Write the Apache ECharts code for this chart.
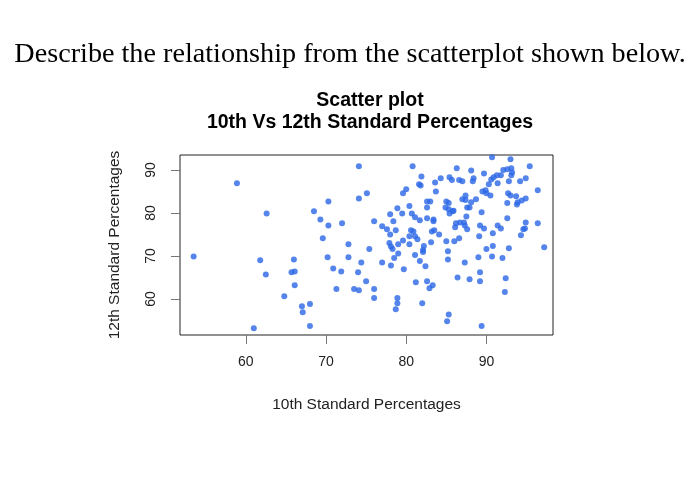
<!DOCTYPE html>
<html><head><meta charset="utf-8">
<script src="https://cdn.jsdelivr.net/npm/echarts@6/dist/echarts.min.js"></script>
<style>html,body{margin:0;padding:0;background:#fff}#c{width:700px;height:500px}</style>
</head><body><div id="c"></div>
<script>
const pageHeading = 'Describe the relationship from the scatterplot shown below.';
const chartTitle = 'Scatter plot\n10th Vs 12th Standard Percentages';
const xName = '10th Standard Percentages';
const yName = '12th Standard Percentages';
const xTicks = [60, 70, 80, 90];
const yTicks = [60, 70, 80, 90];
const tenth = [58.9,62.6,53.5,61.8,66.0,62.5,65.7,66.1,66.1,64.8,67.0,67.1,61.0,72.8,75.4,77.9,78.1,78.3,79.0,80.4,79.6,82.2,82.1,82.1,70.2,72.8,74.4,77.0,78.5,79.0,81.1,81.7,82.4,78.1,79.7,70.9,71.9,74.0,75.0,81.2,82.6,71.3,73.5,74.1,76.0,76.0,78.9,78.9,78.7,82.0,68.0,68.0,83.1,85.0,86.0,86.6,85.2,85.2,87.3,89.0,90.0,90.8,90.7,92.0,92.8,97.2,86.4,87.9,89.2,89.2,92.4,92.3,83.3,82.9,85.3,85.1,89.4,74.1,80.8,81.9,81.6,81.8,80.0,79.6,75.1,74.1,70.3,68.5,69.3,70.3,72.0,69.6,76.0,77.0,77.6,78.7,78.4,78.0,78.9,79.5,80.4,80.7,81.1,81.7,82.6,82.6,82.6,80.6,80.9,80.4,81.1,81.4,78.0,90.7,93.0,93.0,95.4,86.3,88.1,89.7,92.1,92.6,93.1,93.2,93.1,91.8,91.3,90.9,90.6,84.3,85.4,85.7,86.6,87.0,88.4,88.3,83.6,90.3,91.4,92.8,94.2,94.9,96.4,83.7,89.5,89.9,90.0,90.5,87.4,87.0,87.4,88.7,88.1,92.7,93.0,93.7,94.9,94.4,93.9,93.8,92.6,83.0,85.0,85.3,84.9,85.3,85.8,85.4,85.9,87.6,87.9,87.5,89.4,83.4,83.4,92.6,94.9,96.4,94.8,94.6,94.3,86.2,86.7,87.2,87.3,87.6,86.1,89.2,89.7,91.4,91.8,90.8,89.1,83.2,83.5,84.1];
const twelfth = [86.9,79.9,69.9,69.0,69.2,65.7,66.2,66.4,63.2,60.6,58.3,56.9,53.2,72.7,71.6,73.0,72.2,71.6,72.7,72.7,73.6,72.3,71.4,70.9,69.7,69.7,68.5,68.5,69.5,70.6,70.2,68.8,67.6,67.8,66.9,67.1,66.4,66.2,64.1,63.9,64.1,62.3,62.3,62.0,62.3,60.2,60.2,59.0,57.6,59.0,58.8,53.7,73.2,73.4,73.4,74.1,71.1,69.2,68.5,69.7,71.6,72.3,69.9,69.5,71.8,72.0,65.0,64.6,66.2,64.1,64.8,61.6,63.2,62.5,56.4,54.8,53.7,90.9,90.9,88.5,86.7,86.4,85.5,84.6,84.6,83.4,82.7,80.4,78.5,77.1,77.6,74.1,78.1,76.9,76.2,76.0,78.1,79.7,81.1,79.9,81.6,79.9,79.0,78.3,82.7,81.3,78.8,76.0,75.7,74.6,74.6,73.9,75.0,93.0,93.7,92.5,90.9,90.4,89.9,89.2,90.0,90.2,90.4,89.4,88.8,88.8,88.8,88.3,87.8,88.1,88.3,87.7,87.7,87.4,88.1,87.4,87.1,86.7,86.9,87.4,87.4,88.1,85.3,85.0,85.0,85.3,84.6,84.1,84.1,83.2,83.0,83.2,82.5,84.6,84.1,83.9,83.4,82.9,82.5,82.0,82.3,82.7,82.7,82.3,81.3,80.9,80.4,79.9,80.5,81.3,81.3,79.2,80.2,78.5,78.1,78.8,77.8,77.6,76.4,76.2,74.8,77.6,77.8,77.8,77.1,76.2,76.7,77.1,76.4,77.1,76.4,75.3,74.6,75.7,76.0,75.0];

const data = tenth.map((x, i) => [x, twelfth[i]]);
const chart = echarts.init(document.getElementById('c'), null, {renderer: 'canvas'});
const sans = 'Liberation Sans, Arial, sans-serif';
chart.setOption({
  animation: false,
  backgroundColor: '#fff',
  title: [
    {text: pageHeading, left: 'center', top: 36,
     textStyle: {fontFamily: 'Liberation Serif, Times New Roman, serif', fontSize: 28.2, fontWeight: 'normal', color: '#000'}},
    {text: chartTitle, left: 365, textAlign: 'center', top: 85,
     textStyle: {fontFamily: sans, fontSize: 19.5, fontWeight: 'bold', color: '#000', lineHeight: 22}}
  ],
  grid: {left: 180, right: 147, top: 155, bottom: 165, show: true, borderColor: '#222', borderWidth: 1, backgroundColor: 'transparent'},
  xAxis: {
    type: 'value', min: 51.8, max: 98.3,
    name: xName, nameLocation: 'middle', nameGap: 62,
    nameTextStyle: {fontFamily: sans, fontSize: 15.5, color: '#222'},
    axisLine: {show: false}, splitLine: {show: false},
    axisTick: {show: true, length: 9, customValues: xTicks, lineStyle: {color: '#777'}},
    axisLabel: {customValues: xTicks, margin: 20, fontFamily: sans, fontSize: 14, color: '#222'}
  },
  yAxis: {
    type: 'value', min: 51.6, max: 93.5,
    name: yName, nameLocation: 'middle', nameGap: 57,
    nameTextStyle: {fontFamily: sans, fontSize: 15.5, color: '#222'},
    axisLine: {show: false}, splitLine: {show: false},
    axisTick: {show: true, length: 9, customValues: yTicks, lineStyle: {color: '#777'}},
    axisLabel: {customValues: yTicks, rotate: 90, margin: 22, fontFamily: sans, fontSize: 14, color: '#222'}
  },
  series: [{
    type: 'scatter', data: data, symbol: 'circle', symbolSize: 6,
    itemStyle: {color: '#2b67e6'}
  }]
});
</script></body></html>
